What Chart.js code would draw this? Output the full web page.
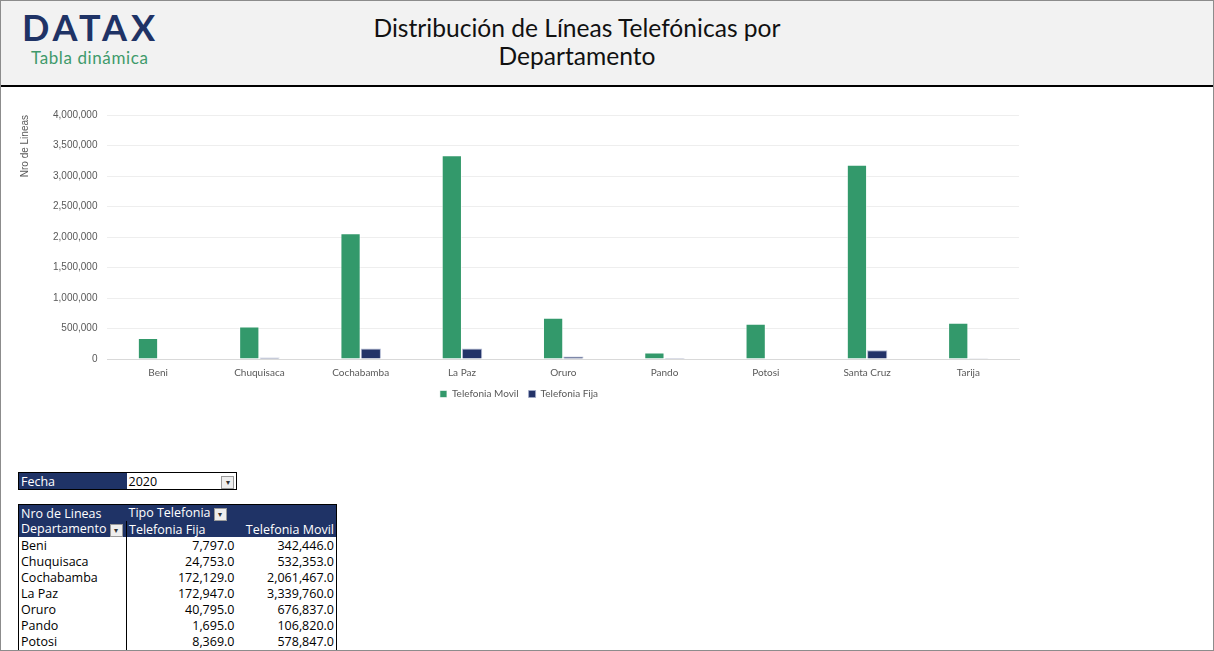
<!DOCTYPE html>
<html lang="es">
<head>
<meta charset="utf-8">
<title>Distribución de Líneas Telefónicas por Departamento</title>
<script src="https://cdn.jsdelivr.net/npm/chart.js@4.4.1/dist/chart.umd.min.js"></script>
<style>
  html, body { margin: 0; padding: 0; background: #fff; }
  #page {
    position: relative;
    width: 1214px;
    height: 651px;
    box-sizing: border-box;
    border: 1px solid #8c8c8c;
    overflow: hidden;
    font-family: Lato, "Open Sans", sans-serif;
  }
  #header {
    position: absolute;
    left: 0; top: 0; right: 0;
    height: 84px;
    background: #f2f2f2;
    border-bottom: 2px solid #000;
  }
  #logo {
    position: absolute;
    left: 21px; top: 4px;
    font-family: Lato, sans-serif;
    font-weight: 700;
    font-size: 36px;
    letter-spacing: 4px;
    color: #1f3366;
  }
  #subtitle {
    position: absolute;
    left: 30px; top: 46px;
    font-size: 17px;
    letter-spacing: 0.6px;
    color: #3f9a6b;
  }
  #title {
    position: absolute;
    left: 300px; width: 552px; top: 13px;
    text-align: center;
    font-size: 24.6px;
    line-height: 28px;
    color: #111;
  }
  #chartBox {
    position: absolute;
    left: 18px; top: 98px;
    width: 1018px; height: 316px;
  }
  table {
    position: absolute;
    border-collapse: collapse;
    table-layout: fixed;
    font-family: "Open Sans", sans-serif;
    font-size: 12.5px;
    color: #000;
  }
  td { padding: 0 2px; height: 16px; line-height: 15px; white-space: nowrap; overflow: hidden; }
  .hd { background: #1f3366; color: #fff; }
  .num { text-align: right; }
  .filter {
    display: inline-block;
    width: 11px; height: 11px;
    border: 1px solid #999;
    background: #eee;
    vertical-align: middle;
    font-size: 8px;
    line-height: 10px;
    text-align: center;
    color: #333;
  }
  #fecha { left: 17px; top: 471px; width: 218px; border: 1px solid #000; }
  #pivot { left: 17px; top: 503px; width: 318px; border: 1px solid #000; }
</style>
</head>
<body>
<div id="page">
  <div id="header">
    <div id="logo">DATAX</div>
    <div id="subtitle">Tabla dinámica</div>
    <div id="title">Distribución de Líneas Telefónicas por<br>Departamento</div>
  </div>

  <div id="chartBox"><canvas id="chart"></canvas></div>

  <table id="fecha">
    <colgroup><col style="width:108px"><col style="width:110px"></colgroup>
    <tr>
      <td class="hd">Fecha</td>
      <td style="background:#fff">2020 <span class="filter" style="float:right;margin-top:2px">&#x25BE;</span></td>
    </tr>
  </table>

  <table id="pivot">
    <colgroup><col style="width:108px"><col style="width:110px"><col style="width:100px"></colgroup>
    <tbody id="pivotBody"></tbody>
  </table>
</div>

<script>
const departamentos = [
  "Beni", "Chuquisaca", "Cochabamba", "La Paz", "Oruro",
  "Pando", "Potosi", "Santa Cruz", "Tarija",
];
// Telefonia Movil / Fija, 2020 (Santa Cruz y Tarija)
const telefoniaMovil = [
  342446, 532353, 2061467, 3339760, 676837, 106820, 578847, 3185000, 593000,
];
const telefoniaFija = [
  7797, 24753, 172129, 172947, 40795, 1695, 8369, 142000, 13000,
];
const yTicksMax = 4000000;
const yTicksStep = 500000;

const green = "#33996b";
const navy = "#233368";
const tickColor = "#595959";

const numFormat = new Intl.NumberFormat("en-US");
const tableFormat = new Intl.NumberFormat("en-US", {
  minimumFractionDigits: 1,
  maximumFractionDigits: 1,
});

buildPivot();
createChart("#chart");

function buildPivot() {
  const body = document.querySelector("#pivotBody");
  let html =
    '<tr><td class="hd">Nro de Lineas</td>' +
    '<td class="hd" colspan="2">Tipo Telefonia <span class="filter">&#x25BE;</span></td></tr>' +
    '<tr><td class="hd" style="border-right:1px solid #000">Departamento <span class="filter">&#x25BE;</span></td>' +
    '<td class="hd">Telefonia Fija</td>' +
    '<td class="hd num">Telefonia Movil</td></tr>';

  departamentos.forEach((dep, i) => {
    html +=
      `<tr><td style="border-right:1px solid #000">${dep}</td>` +
      `<td class="num">${tableFormat.format(telefoniaFija[i])}</td>` +
      `<td class="num">${tableFormat.format(telefoniaMovil[i])}</td></tr>`;
  });
  body.innerHTML = html;
}

function createChart(selector) {
  const ctx = document.querySelector(selector);
  return new Chart(ctx, {
    type: "bar",
    data: {
      labels: departamentos,
      datasets: [
        {
          label: "Telefonia Movil",
          data: telefoniaMovil,
          backgroundColor: green,
          borderColor: "rgba(255,255,255,0.6)",
          borderWidth: 1,
        },
        {
          label: "Telefonia Fija",
          data: telefoniaFija,
          backgroundColor: navy,
          borderColor: "rgba(160,170,200,0.8)",
          borderWidth: 1,
        },
      ],
    },
    options: {
      responsive: true,
      maintainAspectRatio: false,
      animation: false,
      categoryPercentage: 0.4,
      barPercentage: 1,
      layout: { padding: { top: 8, right: 18, bottom: 6, left: 0 } },
      plugins: {
        tooltip: { enabled: false },
        legend: {
          position: "bottom",
          labels: {
            boxWidth: 7,
            boxHeight: 7,
            padding: 10,
            color: tickColor,
            font: { family: "Lato", size: 10 },
          },
        },
      },
      scales: {
        x: {
          grid: { display: false },
          border: { display: true, color: "#d9d9d9" },
          ticks: {
            color: tickColor,
            padding: 0,
            font: { family: "Lato", size: 10 },
          },
        },
        y: {
          min: 0,
          max: yTicksMax,
          border: { display: false },
          grid: { color: "#eeeeee", drawTicks: false },
          ticks: {
            stepSize: yTicksStep,
            padding: 10,
            color: tickColor,
            font: { family: "Liberation Sans", size: 10 },
            callback: (value) => numFormat.format(value),
          },
          title: {
            display: true,
            text: "Nro de Lineas",
            align: "end",
            color: tickColor,
            padding: { top: 0, bottom: 12 },
            font: { family: "Liberation Sans", size: 10 },
          },
        },
      },
    },
  });
}
</script>
</body>
</html>
